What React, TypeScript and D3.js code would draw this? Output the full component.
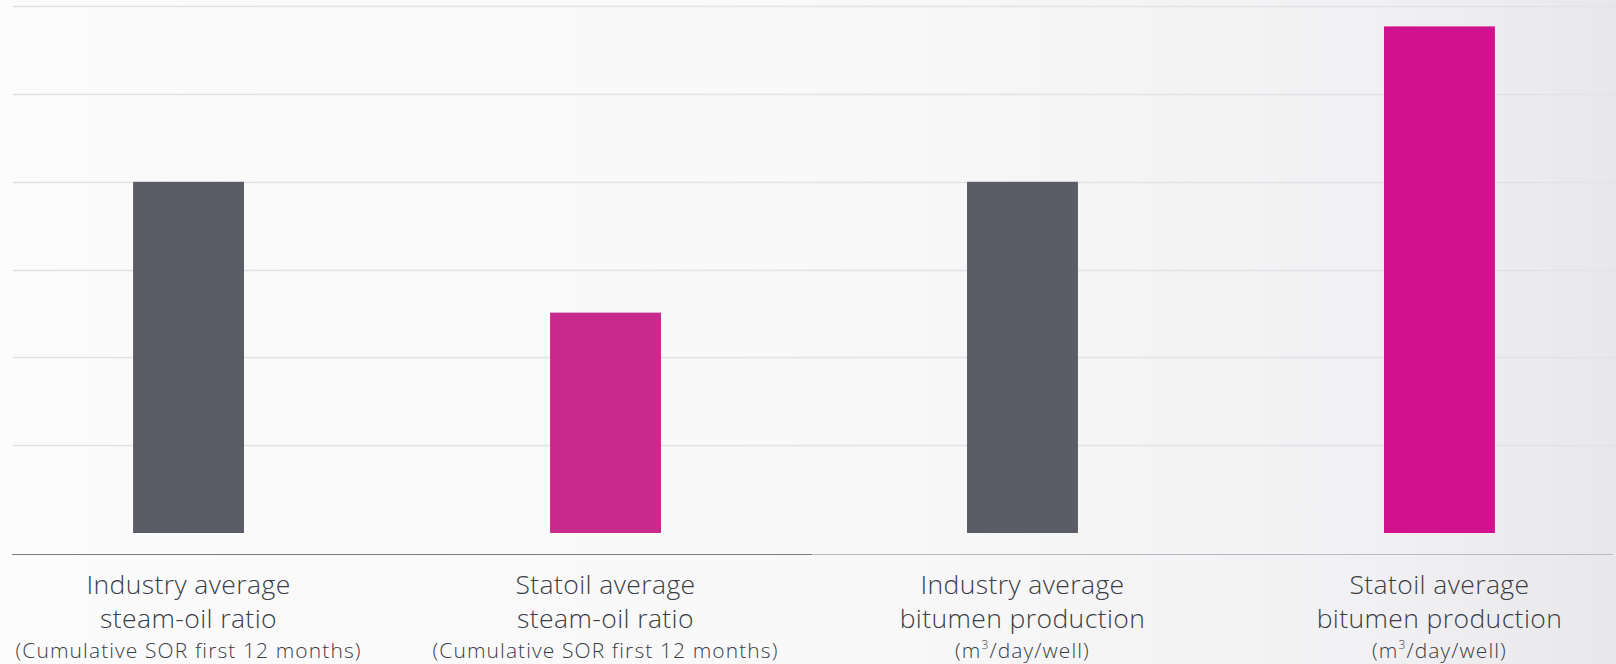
import React, { useEffect, useRef } from 'react';
import * as d3 from 'd3';

// Chart data
const categories = ['industrySor', 'statoilSor', 'industryProd', 'statoilProd'];
const values = [4.0, 2.51, 4.0, 5.77];
const barColors = ['#5b5d66', '#c82a8e', '#5b5d66', '#d2118e'];
const titleLines = [
  ['Industry average', 'steam-oil ratio'],
  ['Statoil average', 'steam-oil ratio'],
  ['Industry average', 'bitumen production'],
  ['Statoil average', 'bitumen production'],
];
const unitLines = [
  '(Cumulative SOR first 12 months)',
  '(Cumulative SOR first 12 months)',
  'm3',
  'm3',
];
const gridTicks = [1, 2, 3, 4, 5, 6];

const W = 1616;
const H = 664;

const App: React.FC = () => {
  const svgRef = useRef<SVGSVGElement>(null);

  useEffect(() => {
    if (!svgRef.current) return;
    const svg = d3.select(svgRef.current);
    svg.selectAll('*').remove();

    const x = d3.scaleBand<string>()
      .domain(categories)
      .range([13, 1615])
      .paddingInner(0.734)
      .paddingOuter(0.288);

    const y = d3.scaleLinear().domain([0, 6]).range([533, 6.2]);

    // Background gradient
    const defs = svg.append('defs');
    const grad = defs.append('linearGradient')
      .attr('id', 'bg').attr('x1', '0').attr('y1', '0').attr('x2', '1').attr('y2', '0');
    grad.append('stop').attr('offset', '0%').attr('stop-color', '#fbfbfb');
    grad.append('stop').attr('offset', '55%').attr('stop-color', '#f8f8f9');
    grad.append('stop').attr('offset', '85%').attr('stop-color', '#f1f1f3');
    grad.append('stop').attr('offset', '100%').attr('stop-color', '#e8e8eb');
    svg.append('rect').attr('width', W).attr('height', H).attr('fill', 'url(#bg)');

    // Gridlines
    svg.append('g')
      .selectAll('line')
      .data(gridTicks)
      .enter()
      .append('line')
      .attr('x1', 13)
      .attr('x2', 1616)
      .attr('y1', d => Math.round(y(d)) + 0.5)
      .attr('y2', d => Math.round(y(d)) + 0.5)
      .attr('stroke', '#e2e2e5')
      .attr('stroke-width', 1.5);

    // Bars
    svg.append('g')
      .selectAll('rect')
      .data(values)
      .enter()
      .append('rect')
      .attr('x', (d, i) => x(categories[i]) as number)
      .attr('width', x.bandwidth())
      .attr('y', d => y(d))
      .attr('height', d => y(0) - y(d))
      .attr('fill', (d, i) => barColors[i]);

    // Axis line (darker left half, lighter right half)
    svg.append('line')
      .attr('x1', 12).attr('x2', 812).attr('y1', 554.5).attr('y2', 554.5)
      .attr('stroke', '#7b7c83').attr('stroke-width', 1.2);
    svg.append('line')
      .attr('x1', 812).attr('x2', 1613).attr('y1', 554.5).attr('y2', 554.5)
      .attr('stroke', '#b9bac0').attr('stroke-width', 1.2);

    // Labels
    const labels = svg.append('g')
      .attr('font-family', '"Open Sans", sans-serif')
      .attr('font-weight', 300)
      .attr('fill', '#3b3d45')
      .attr('text-anchor', 'middle');

    categories.forEach((c, i) => {
      const cx = (x(c) as number) + x.bandwidth() / 2;
      titleLines[i].forEach((t, j) => {
        labels.append('text')
          .attr('x', cx)
          .attr('y', 594 + j * 34)
          .attr('font-size', 26.5)
          .attr('letter-spacing', 0.4)
          .text(t);
      });
      const unit = labels.append('text')
        .attr('x', cx)
        .attr('y', 658)
        .attr('font-size', 21)
        .attr('letter-spacing', 1.1);
      if (unitLines[i] === 'm3') {
        unit.append('tspan').text('(m');
        unit.append('tspan').attr('font-size', 12).attr('dy', -9).text('3');
        unit.append('tspan').attr('dy', 9).text('/day/well)');
      } else {
        unit.text(unitLines[i]);
      }
    });
  }, []);

  return (
    <div style={{ position: 'absolute', left: 0, top: 0 }}>
      <svg ref={svgRef} width={W} height={H} style={{ display: 'block' }}></svg>
    </div>
  );
};

export default App;
